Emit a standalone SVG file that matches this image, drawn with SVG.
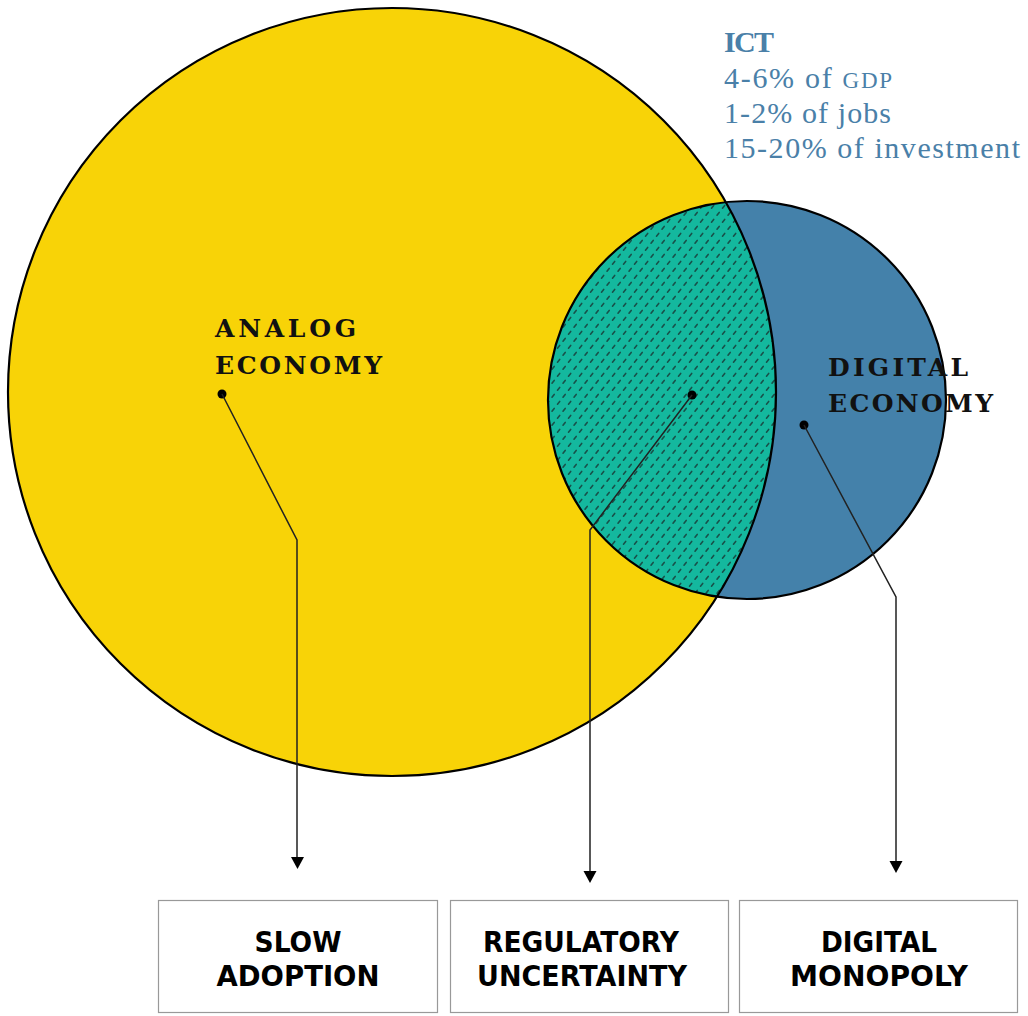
<svg xmlns="http://www.w3.org/2000/svg" width="1028" height="1016" viewBox="0 0 1028 1016">
<style>
.circ{stroke:#000;stroke-width:2.2}
.lbl{font-family:"DejaVu Serif","Liberation Serif",serif;font-weight:bold;font-size:25px;fill:#111}
.ict{font-family:"Liberation Serif","DejaVu Serif",serif;font-size:30px;fill:#4a80a8}
.box{fill:#fff;stroke:#999;stroke-width:1.2}
.btxt{font-family:"DejaVu Sans","Liberation Sans",sans-serif;font-weight:bold;font-size:29px;fill:#000;text-anchor:middle}
.conn{fill:none;stroke:#222;stroke-width:1.5}
</style>
<defs>
<pattern id="hatch" width="11" height="14" patternUnits="userSpaceOnUse">
<rect width="11" height="14" fill="#14b89e"/>
<path d="M2,5.2 L4.2,2.4 M7.5,12.2 L9.7,9.4" stroke="#17514a" stroke-width="1.6" stroke-linecap="round"/>
</pattern>
</defs>
<rect width="1028" height="1016" fill="#fff"/>

<g id="analog">
<circle cx="392" cy="392" r="384" fill="#f8d307"/>
</g>
<g id="digital">
<circle cx="747" cy="400" r="199" fill="#4481aa"/>
</g>
<g id="overlap">
<path d="M725.79,202.17 A199,199 0 0 0 716.89,596.67 A384,384 0 0 0 725.79,202.17 Z" fill="url(#hatch)"/>
</g>
<g id="outlines">
<circle cx="392" cy="392" r="384" fill="none" class="circ"/>
<circle cx="747" cy="400" r="199" fill="none" class="circ"/>
</g>

<g id="analog-label">
<text class="lbl" x="215" y="337" textLength="141" lengthAdjust="spacing">ANALOG</text>
<text class="lbl" x="215" y="374" textLength="167" lengthAdjust="spacing">ECONOMY</text>
</g>
<g id="digital-label">
<text class="lbl" x="828" y="376" textLength="140" lengthAdjust="spacing">DIGITAL</text>
<text class="lbl" x="828" y="412" textLength="165" lengthAdjust="spacing">ECONOMY</text>
</g>
<g id="ict-label">
<text class="ict" x="724" y="52" font-weight="bold" textLength="50" lengthAdjust="spacing">ICT</text>
<text class="ict" x="724" y="88" textLength="168" lengthAdjust="spacing">4-6% of <tspan font-size="23">GDP</tspan></text>
<text class="ict" x="724" y="123" textLength="167" lengthAdjust="spacing">1-2% of jobs</text>
<text class="ict" x="724" y="158" textLength="296" lengthAdjust="spacing">15-20% of investment</text>
</g>

<g id="connectors">
<circle cx="222" cy="394" r="4.5" fill="#000"/>
<circle cx="692" cy="395" r="4.5" fill="#000"/>
<circle cx="804" cy="425" r="4.5" fill="#000"/>
<polyline class="conn" points="222,394 297,540 297,858"/>
<polyline class="conn" points="692,395 590,530 590,872"/>
<polyline class="conn" points="804,425 896,597 896,862"/>
<path d="M291,857 L304,857 L297.5,869 Z" fill="#000"/>
<path d="M583.5,871 L596.5,871 L590,883 Z" fill="#000"/>
<path d="M889.5,861 L902.5,861 L896,873 Z" fill="#000"/>
</g>

<g id="slow-adoption">
<rect class="box" x="158.5" y="900.5" width="279" height="112"/>
<text class="btxt" x="298" y="952" textLength="87" lengthAdjust="spacingAndGlyphs">SLOW</text>
<text class="btxt" x="298" y="986" textLength="163" lengthAdjust="spacingAndGlyphs">ADOPTION</text>
</g>
<g id="regulatory-uncertainty">
<rect class="box" x="450.5" y="900.5" width="278" height="112"/>
<text class="btxt" x="581" y="952" textLength="196" lengthAdjust="spacingAndGlyphs">REGULATORY</text>
<text class="btxt" x="582" y="986" textLength="210" lengthAdjust="spacingAndGlyphs">UNCERTAINTY</text>
</g>
<g id="digital-monopoly">
<rect class="box" x="739.5" y="900.5" width="278" height="112"/>
<text class="btxt" x="879" y="952" textLength="116" lengthAdjust="spacingAndGlyphs">DIGITAL</text>
<text class="btxt" x="879" y="986" textLength="178" lengthAdjust="spacingAndGlyphs">MONOPOLY</text>
</g>
</svg>
